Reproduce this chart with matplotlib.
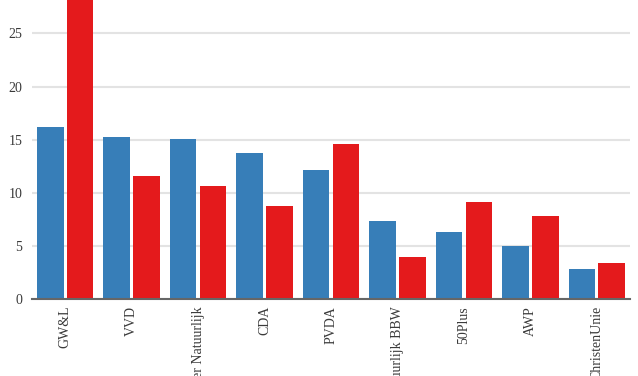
import matplotlib
matplotlib.use("Agg")
import matplotlib.pyplot as plt
import numpy as np

categories = ["GW&L", "VVD", "Water Natuurlijk", "CDA", "PVDA",
              "Water Natuurlijk BBW", "50Plus", "AWP", "ChristenUnie"]
series_blue = [16.15, 15.27, 15.02, 13.76, 12.19, 7.35, 6.35, 5.03, 2.83]
series_red = [30.0, 11.56, 10.68, 8.73, 14.58, 3.96, 9.17, 7.85, 3.36]
yticks = [0, 5, 10, 15, 20, 25]

plt.rcParams['font.family'] = ['Liberation Serif', 'DejaVu Serif']

fig = plt.figure(figsize=(6.38, 3.76), dpi=100)
ax = fig.add_axes([32/638, 1 - 299/376, (630-32)/638, 299/376])

x = np.arange(len(categories))
w = 0.4
ax.bar(x - 0.225, series_blue, width=w, color="#377eb8", zorder=3)
ax.bar(x + 0.225, series_red, width=w, color="#e41a1c", zorder=3)

ax.set_xlim(-0.5, len(categories) - 0.5)
ax.set_ylim(0, 28.15)
ax.set_yticks(yticks)
ax.set_yticklabels([str(t) for t in yticks])
ax.set_xticks(x)
ax.set_xticklabels(categories, rotation=90, ha='center', va='top')

ax.grid(axis='y', color='#e3e3e3', linewidth=1.5, zorder=0)
ax.tick_params(axis='both', length=0, labelsize=10, colors='#3a3a3a')
ax.tick_params(axis='x', pad=5)
ax.tick_params(axis='y', pad=7)
for s in ['top', 'right', 'left']:
    ax.spines[s].set_visible(False)
ax.spines['bottom'].set_color('#666666')
ax.spines['bottom'].set_linewidth(1.5)
ax.spines['bottom'].set_zorder(4)

fig.savefig("out.png", dpi=100)
